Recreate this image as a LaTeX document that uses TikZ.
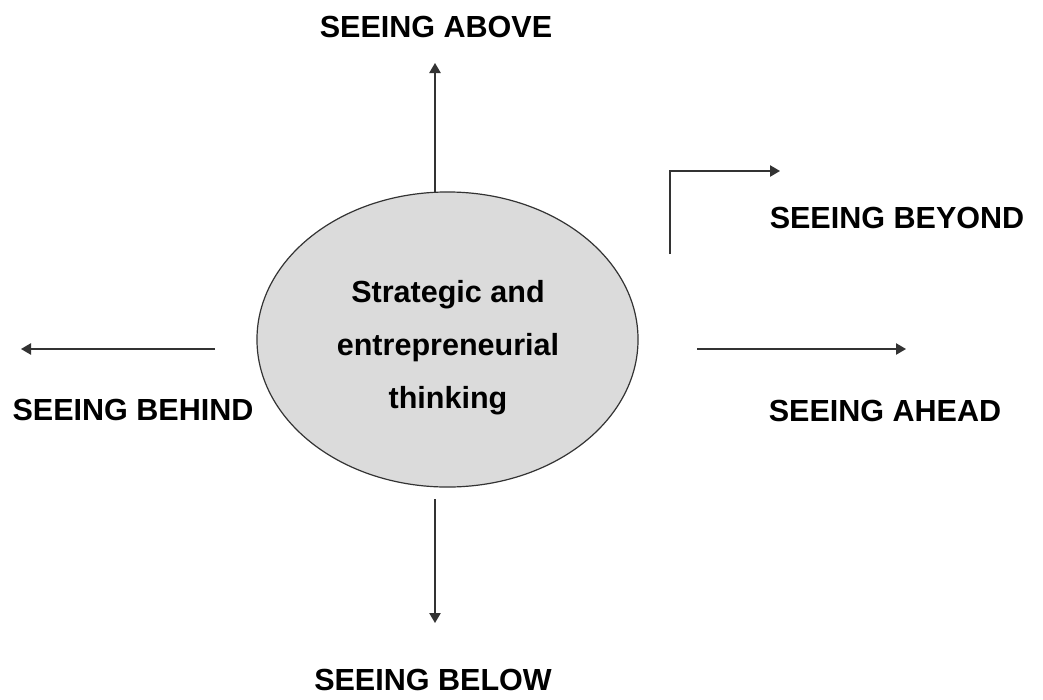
\documentclass[tikz,border=0pt]{standalone}
\usepackage{fontspec}
\setmainfont{Liberation Sans}
\usetikzlibrary{arrows.meta,shapes.geometric}

\begin{document}
\begin{tikzpicture}[
    x=0.75pt, y=-0.75pt,
    core/.style={ellipse, draw=black!80, fill=black!14, line width=0.9pt, minimum width=285.8pt, minimum height=221.3pt, inner sep=0pt},
    view/.style={font=\fontsize{22.9}{27}\selectfont\bfseries, anchor=base, inner sep=0pt},
    arr/.style={-{Triangle[length=7.5pt, width=8.5pt]}, line width=1.1pt, draw=black!80}
]
\useasboundingbox (0,0) rectangle (1043,700);

\node[core] (mind) at (447.5,339.5) {};
\node[font=\fontsize{22.9}{39.7}\selectfont\bfseries, align=center, inner sep=0pt] (idea) at (448,348) {Strategic and\\entrepreneurial\\thinking};

% arrow ends
\coordinate (upfrom) at (435,193);
\coordinate (upto) at (435,63);
\coordinate (downfrom) at (435,499);
\coordinate (downto) at (435,623);
\coordinate (backfrom) at (215,349);
\coordinate (backto) at (21,349);
\coordinate (aheadfrom) at (697,349);
\coordinate (aheadto) at (906,349);
\coordinate (beyondfrom) at (670,254);
\coordinate (beyondto) at (780,171);

\draw[arr] (upfrom) -- (upto);
\draw[arr] (downfrom) -- (downto);
\draw[arr] (backfrom) -- (backto);
\draw[arr] (aheadfrom) -- (aheadto);
\draw[arr] (beyondfrom) |- (beyondto);

\node[view] (above) at (436,37) {SEEING ABOVE};
\node[view] (beyond) at (897,228) {SEEING BEYOND};
\node[view] (behind) at (133,420) {SEEING BEHIND};
\node[view] (ahead) at (885,421) {SEEING AHEAD};
\node[view] (below) at (433,690) {SEEING BELOW};
\end{tikzpicture}
\end{document}
